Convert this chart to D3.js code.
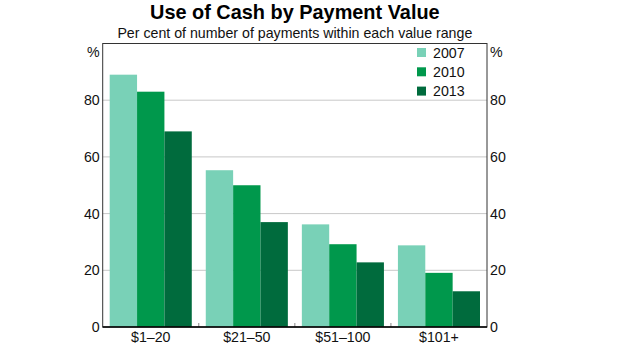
<!DOCTYPE html>
<html><head><meta charset="utf-8">
<script src="https://cdn.jsdelivr.net/npm/d3@7"></script>
<style>body{margin:0;background:#fff;} svg{display:block;font-family:"Liberation Sans",Arial,sans-serif;}</style>
</head><body>
<svg id="c" width="620" height="349"></svg>
<script>
const categories = ["$1–20", "$21–50", "$51–100", "$101+"];
const seriesNames = ["2007", "2010", "2013"];
const v2007 = [89, 55.3, 36.2, 28.8];
const v2010 = [83, 50, 29.2, 19.1];
const v2013 = [69, 37, 22.8, 12.6];
const yTicks = [0, 20, 40, 60, 80];
const colors = ["#79d1b7", "#00984c", "#006b3d"];

const series = [v2007, v2010, v2013];
const svg = d3.select("#c");
const m = {l: 102.7, r: 487, t: 43.5, b: 327};
const x = d3.scaleBand().domain(categories).range([m.l, m.r]).paddingInner(0).paddingOuter(0);
const xi = d3.scaleBand().domain(seriesNames).range([7, x.bandwidth() - 7]);
const y = d3.scaleLinear().domain([0, 100]).range([m.b, m.t]);

// gridlines
svg.append("g").selectAll("line").data(yTicks.filter(d => d > 0)).join("line")
  .attr("x1", m.l).attr("x2", m.r).attr("y1", d => y(d)).attr("y2", d => y(d))
  .attr("stroke", "#c8c8c8").attr("stroke-width", 1);

// bars
series.forEach((vals, si) => {
  svg.append("g").selectAll("rect").data(vals).join("rect")
    .attr("x", (d, i) => x(categories[i]) + xi(seriesNames[si]))
    .attr("width", xi.bandwidth())
    .attr("y", d => y(d))
    .attr("height", d => y(0) - y(d))
    .attr("fill", colors[si]);
});

// category separator ticks
svg.append("g").selectAll("line").data(categories.slice(1)).join("line")
  .attr("x1", d => x(d)).attr("x2", d => x(d))
  .attr("y1", m.b).attr("y2", m.b - 4)
  .attr("stroke", "#888").attr("stroke-width", 1);

// frame
svg.append("rect").attr("x", m.l).attr("y", m.t).attr("width", m.r - m.l).attr("height", m.b - m.t)
  .attr("fill", "none").attr("stroke", "#333").attr("stroke-width", 1);
svg.append("line").attr("x1", m.l).attr("x2", m.r).attr("y1", m.b).attr("y2", m.b)
  .attr("stroke", "#000").attr("stroke-width", 1.3);

// y axes labels
const fs = 14.2;
svg.append("g").selectAll("text").data(yTicks).join("text")
  .attr("x", m.l - 3).attr("y", d => y(d)).attr("dy", "0.36em")
  .attr("text-anchor", "end").attr("font-size", fs).attr("fill", "#111").text(d => d);
svg.append("g").selectAll("text").data(yTicks).join("text")
  .attr("x", m.r + 3).attr("y", d => y(d)).attr("dy", "0.36em")
  .attr("text-anchor", "start").attr("font-size", fs).attr("fill", "#111").text(d => d);
svg.append("text").attr("x", m.l - 3).attr("y", 52).attr("dy", "0.36em")
  .attr("text-anchor", "end").attr("font-size", fs).attr("fill", "#111").text("%");
svg.append("text").attr("x", m.r + 3).attr("y", 52).attr("dy", "0.36em")
  .attr("text-anchor", "start").attr("font-size", fs).attr("fill", "#111").text("%");

// x labels
svg.append("g").selectAll("text").data(categories).join("text")
  .attr("x", d => x(d) + x.bandwidth() / 2).attr("y", 342)
  .attr("text-anchor", "middle").attr("font-size", fs).attr("fill", "#111").text(d => d);

// title
const cx = (m.l + m.r) / 2;
svg.append("text").attr("x", cx).attr("y", 19).attr("text-anchor", "middle")
  .attr("font-size", 19.9).attr("font-weight", "bold").attr("fill", "#000").text("Use of Cash by Payment Value");
svg.append("text").attr("x", cx).attr("y", 38).attr("text-anchor", "middle")
  .attr("font-size", 14.2).attr("fill", "#111").text("Per cent of number of payments within each value range");

// legend
const lg = svg.append("g");
seriesNames.forEach((s, i) => {
  const yy = 52.5 + i * 19.3;
  lg.append("rect").attr("x", 417).attr("y", yy - 4.5).attr("width", 9).attr("height", 9).attr("fill", colors[i]);
  lg.append("text").attr("x", 433).attr("y", yy).attr("dy", "0.36em").attr("font-size", fs).attr("fill", "#111").text(s);
});
</script>
</body></html>
